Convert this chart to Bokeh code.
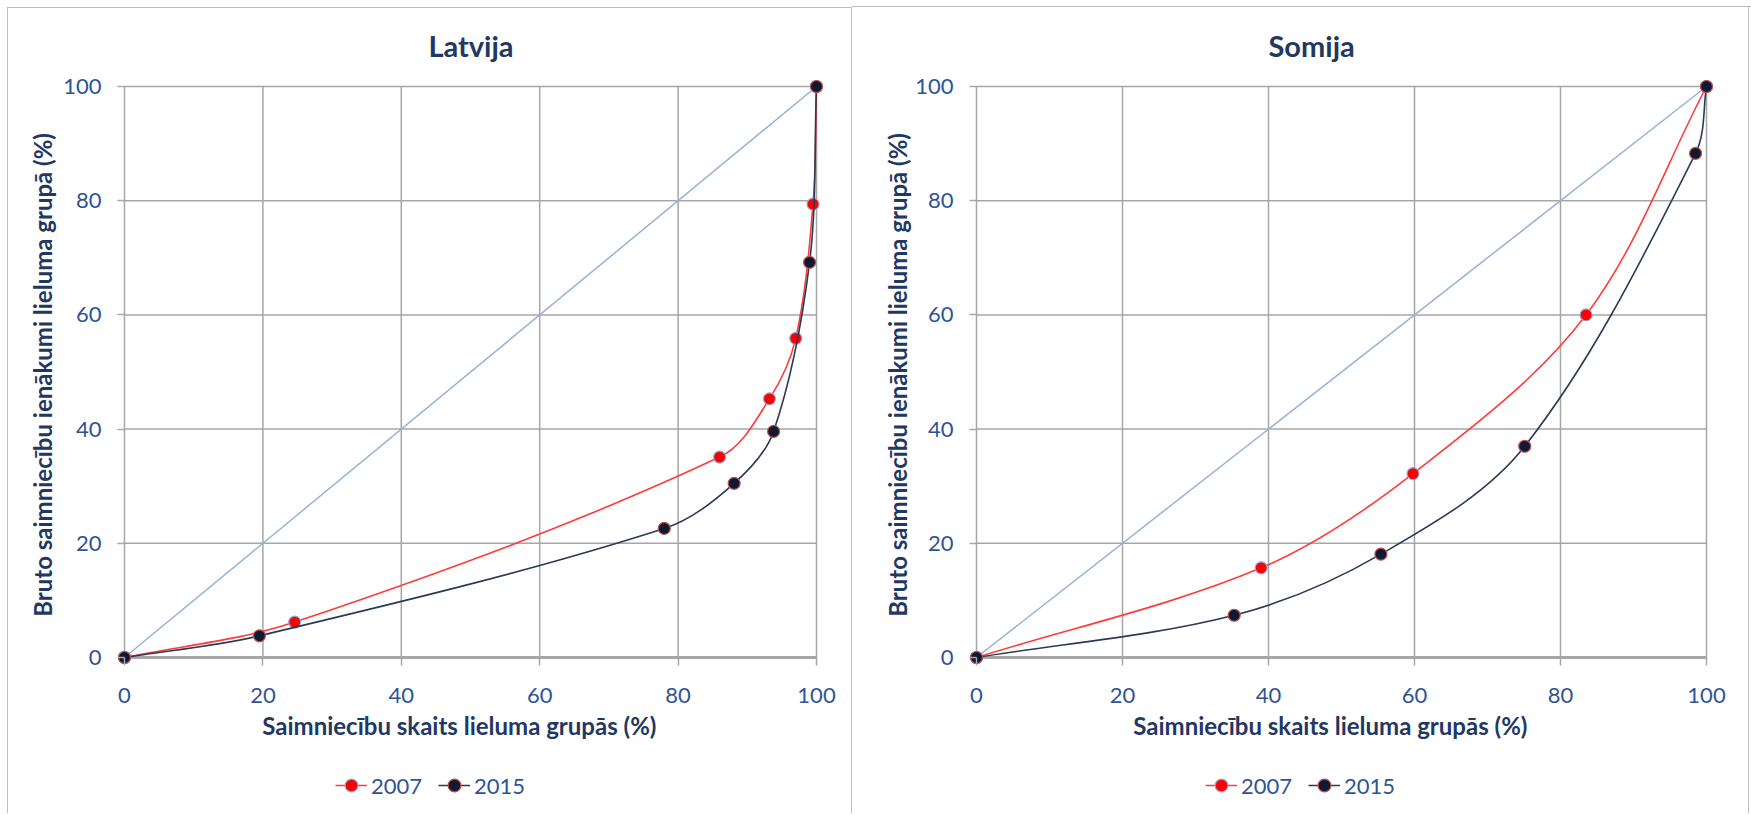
from bokeh.plotting import figure
from bokeh.models import Range1d, Legend, LegendItem, FixedTicker
from bokeh.layouts import row, column
from bokeh.embed import file_html
from bokeh.resources import INLINE

# ---------------- data ----------------
lv_2007_x = [0, 24.6, 86.0, 93.2, 97.0, 99.5, 100]
lv_2007_y = [0, 6.2, 35.1, 45.3, 55.9, 79.4, 100]
lv_2015_x = [0, 19.5, 78.0, 88.1, 93.8, 99.0, 100]
lv_2015_y = [0, 3.8, 22.6, 30.5, 39.6, 69.2, 100]

fi_2007_x = [0, 39.0, 59.8, 83.5, 100]
fi_2007_y = [0, 15.7, 32.2, 60.0, 100]
fi_2015_x = [0, 35.3, 55.4, 75.1, 98.5, 100]
fi_2015_y = [0, 7.4, 18.1, 37.0, 88.3, 100]

equality_x = [0, 100]
equality_y = [0, 100]
ticks = [0, 20, 40, 60, 80, 100]
titles = ["Latvija", "Somija"]
series_labels = ["2007", "2015"]
x_title = "Saimniecību  skaits  lieluma  grupās  (%)"
y_title = "Bruto saimniecību  ienākumi lieluma grupā (%)"

# ---------------- styling ----------------
FONT = "Lato"
TITLE_COL = "#1F3864"
TICK_COL = "#2F5496"
GRID_COL = "#A6A6A6"
DIAG_COL = "#95B3D7"
BORDER = "#BDBDBD"
C07_LINE, C07_FILL, C07_EDGE = "#FF3B3B", "#FF0000", "#8EA9DB"
C15_LINE, C15_FILL, C15_EDGE = "#2B3A55", "#0E1A33", "#C0504D"

CHART_H = 758
LEG_H = 55
PAD_L, PAD_R, PAD_T, PAD_B = 7, 8, 8, 8


def smooth(xs, ys, sx, sy):
    """Bezier control points through the data points (tangent from neighbours,
    handle length a third of the segment, in pixel proportions)."""
    n = len(xs)
    P = [(x * sx, y * sy) for x, y in zip(xs, ys)]
    tang = []
    for i in range(n):
        a = P[max(i - 1, 0)]
        b = P[min(i + 1, n - 1)]
        dx, dy = b[0] - a[0], b[1] - a[1]
        L = (dx * dx + dy * dy) ** 0.5 or 1.0
        tang.append((dx / L, dy / L))
    out = dict(x0=[], y0=[], x1=[], y1=[], cx0=[], cy0=[], cx1=[], cy1=[])
    for i in range(n - 1):
        (ax, ay), (bx, by) = P[i], P[i + 1]
        d = ((bx - ax) ** 2 + (by - ay) ** 2) ** 0.5 / 3.0
        out["x0"].append(xs[i]); out["y0"].append(ys[i])
        out["x1"].append(xs[i + 1]); out["y1"].append(ys[i + 1])
        out["cx0"].append((ax + tang[i][0] * d) / sx)
        out["cy0"].append((ay + tang[i][1] * d) / sy)
        out["cx1"].append((bx - tang[i + 1][0] * d) / sx)
        out["cy1"].append((by - tang[i + 1][1] * d) / sy)
    return out


def chart(title, s07, s15, fig_w, zero_x, hundred_x, zero_y, hundred_y,
          title_align, title_offset, ylab_standoff, border_css):
    sx = (hundred_x - zero_x) / 100.0
    sy = (zero_y - hundred_y) / 100.0
    frame_l = zero_x - PAD_L
    frame_r = hundred_x + PAD_R
    frame_t = hundred_y - PAD_T
    frame_b = zero_y + PAD_B

    p = figure(width=fig_w, height=CHART_H, output_backend="svg", toolbar_location=None,
               x_range=Range1d(-PAD_L / sx, 100 + PAD_R / sx),
               y_range=Range1d(-PAD_B / sy, 100 + PAD_T / sy),
               min_border_left=frame_l, min_border_right=fig_w - frame_r,
               min_border_top=frame_t, min_border_bottom=CHART_H - frame_b)
    p.outline_line_color = None
    p.background_fill_color = None
    p.border_fill_color = None
    p.xgrid.grid_line_color = None
    p.ygrid.grid_line_color = None
    p.styles = border_css

    p.title.text = title
    p.title.align = title_align
    p.title.offset = title_offset
    p.title.standoff = 31
    p.title.text_font = FONT
    p.title.text_font_style = "bold"
    p.title.text_font_size = "29px"
    p.title.text_color = TITLE_COL

    # grid drawn inside 0..100 only
    lo, hi = ticks[0], ticks[-1]
    p.segment(x0=ticks, y0=[lo] * len(ticks), x1=ticks, y1=[hi] * len(ticks),
              line_color=GRID_COL, line_width=1.5)
    p.segment(x0=[lo] * len(ticks), y0=ticks, x1=[hi] * len(ticks), y1=ticks,
              line_color=GRID_COL, line_width=1.5)
    p.segment(x0=[lo], y0=[lo], x1=[hi], y1=[lo], line_color=GRID_COL, line_width=3)

    for ax, pad in ((p.xaxis[0], PAD_B), (p.yaxis[0], PAD_L)):
        ax.ticker = FixedTicker(ticks=ticks)
        ax.axis_line_color = None
        ax.major_tick_in = pad
        ax.major_tick_out = 0
        ax.major_tick_line_color = GRID_COL
        ax.major_tick_line_width = 1.5
        ax.minor_tick_line_color = None
        ax.major_label_text_font = FONT
        ax.major_label_text_font_size = "22px"
        ax.major_label_text_color = TICK_COL
        ax.axis_label_text_font = FONT
        ax.axis_label_text_font_style = "bold"
        ax.axis_label_text_font_size = "24px"
        ax.axis_label_text_color = TITLE_COL
    p.xaxis[0].axis_label = x_title
    p.yaxis[0].axis_label = y_title
    p.xaxis[0].major_label_standoff = 22
    p.yaxis[0].major_label_standoff = 16
    p.xaxis[0].axis_label_standoff = 5
    p.yaxis[0].axis_label_standoff = ylab_standoff

    # line of equality
    p.line(equality_x, equality_y, line_color=DIAG_COL, line_width=1.5)

    for (xs, ys), lc, fc, ec in ((s07, C07_LINE, C07_FILL, C07_EDGE),
                                 (s15, C15_LINE, C15_FILL, C15_EDGE)):
        b = smooth(xs, ys, sx, sy)
        p.bezier(line_color=lc, line_width=1.6, **b)
        p.scatter(xs, ys, size=12, fill_color=fc, line_color=ec, line_width=1.2)
    return p


def legend_strip(s07, s15, fig_w, legend_cx, border_css):
    # a strip holding only the legend; the series are plotted outside its view
    lf = figure(width=fig_w, height=LEG_H, output_backend="svg", toolbar_location=None,
                x_range=Range1d(1000, 1001), y_range=Range1d(1000, 1001),
                min_border=0, x_axis_type=None, y_axis_type=None)
    lf.outline_line_color = None
    lf.background_fill_color = None
    lf.border_fill_color = None
    lf.xgrid.grid_line_color = None
    lf.ygrid.grid_line_color = None
    lf.styles = border_css
    items = []
    for (xs, ys), lab, lc, fc, ec in ((s07, series_labels[0], C07_LINE, C07_FILL, C07_EDGE),
                                      (s15, series_labels[1], C15_LINE, C15_FILL, C15_EDGE)):
        rl = lf.line(xs, ys, line_color=lc, line_width=1.6)
        rs = lf.scatter(xs, ys, fill_color=fc, line_color=ec, line_width=1.2)
        items.append(LegendItem(label=lab, renderers=[rl, rs]))
    leg = Legend(items=items, orientation="horizontal",
                 location=(legend_cx - 96, 12),
                 border_line_color=None, background_fill_alpha=0,
                 label_text_font=FONT, label_text_font_size="22px",
                 label_text_color=TICK_COL, glyph_width=32, glyph_height=32,
                 label_standoff=4, spacing=16, padding=0, margin=0)
    lf.add_layout(leg, "center")
    return lf


css_left_top = {"box-shadow": f"inset 7px 7px 0 0 #FFFFFF, inset 8px 8px 0 0 {BORDER}, inset -1px 0 0 0 {BORDER}"}
css_left_bot = {"box-shadow": f"inset 7px 0 0 0 #FFFFFF, inset 8px 0 0 0 {BORDER}, inset -1px 0 0 0 {BORDER}"}
css_right_top = {"box-shadow": f"inset 0 6px 0 0 #FFFFFF, inset 0 7px 0 0 {BORDER}, inset -2px 0 0 0 #FFFFFF, inset -3px 0 0 0 {BORDER}"}
css_right_bot = {"box-shadow": f"inset -2px 0 0 0 #FFFFFF, inset -3px 0 0 0 {BORDER}"}

left = chart(titles[0], (lv_2007_x, lv_2007_y), (lv_2015_x, lv_2015_y),
             fig_w=852, zero_x=124, hundred_x=816, zero_y=657, hundred_y=86,
             title_align="center", title_offset=0, ylab_standoff=3, border_css=css_left_top)
right = chart(titles[1], (fi_2007_x, fi_2007_y), (fi_2015_x, fi_2015_y),
              fig_w=899, zero_x=124, hundred_x=854, zero_y=657, hundred_y=86,
              title_align="left", title_offset=299, ylab_standoff=0, border_css=css_right_top)
left_leg = legend_strip((lv_2007_x, lv_2007_y), (lv_2015_x, lv_2015_y),
                        fig_w=852, legend_cx=431, border_css=css_left_bot)
right_leg = legend_strip((fi_2007_x, fi_2007_y), (fi_2015_x, fi_2015_y),
                         fig_w=899, legend_cx=449, border_css=css_right_bot)

layout = column(row(left, right, spacing=0), row(left_leg, right_leg, spacing=0), spacing=0)
open("out.html", "w").write(file_html(layout, INLINE))
